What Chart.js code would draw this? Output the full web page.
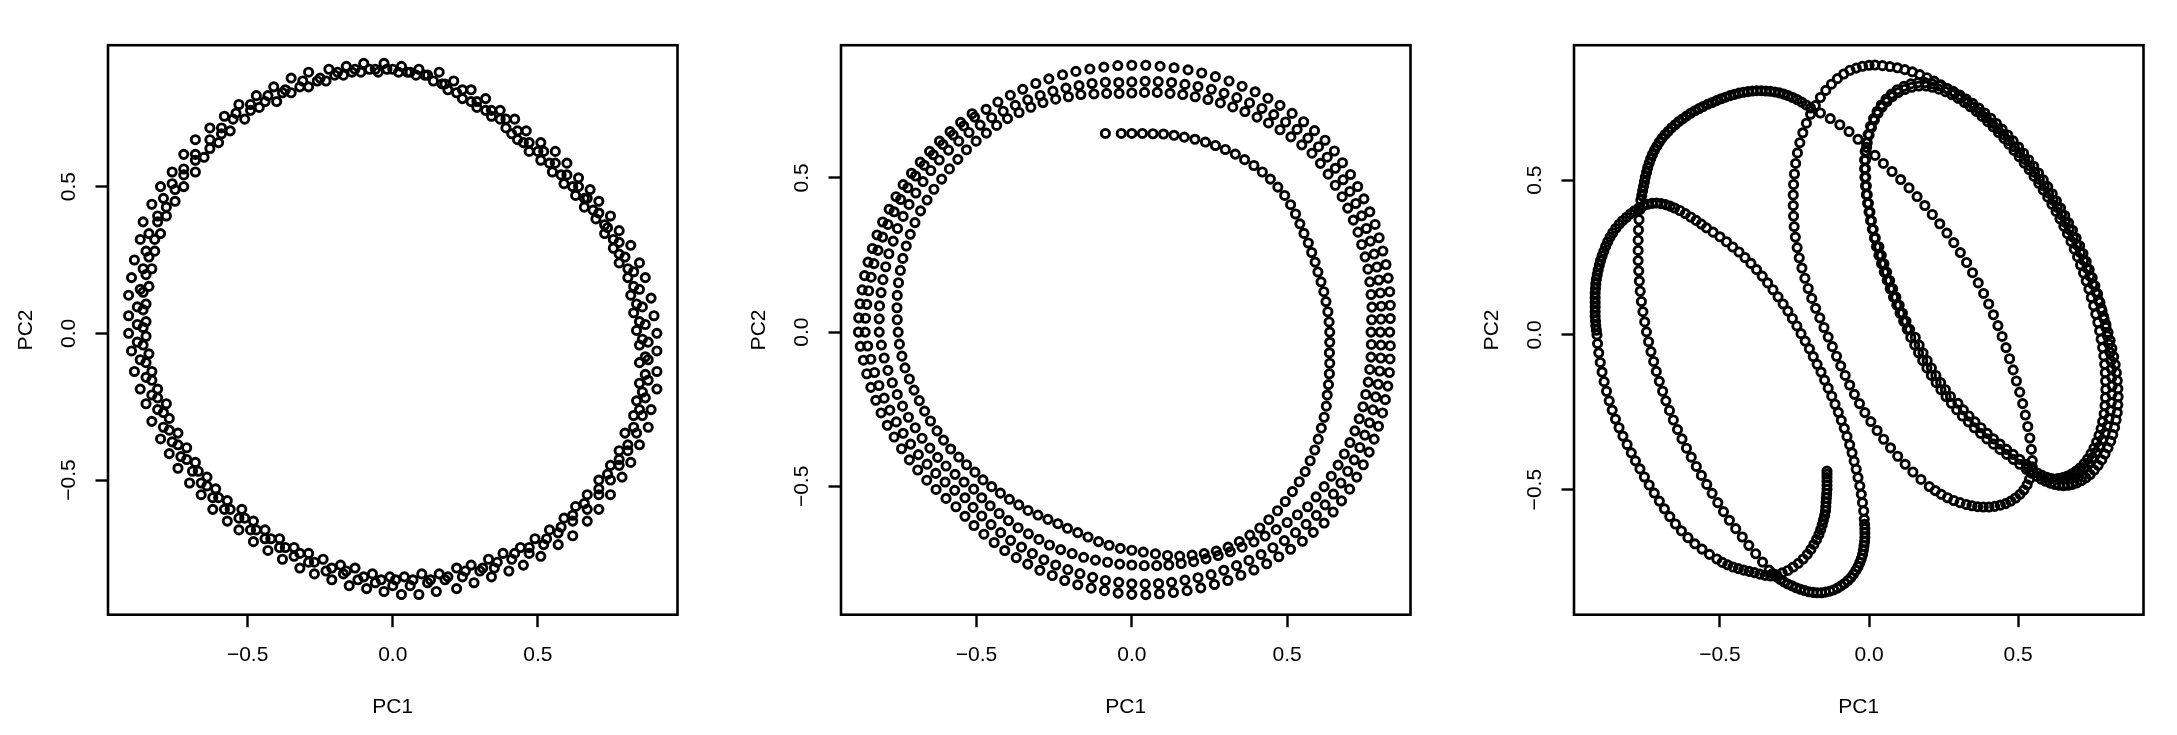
<!DOCTYPE html>
<html><head><meta charset="utf-8">
<script src="https://cdn.jsdelivr.net/npm/chart.js@4/dist/chart.umd.min.js"></script>
<style>
html,body{margin:0;padding:0;background:#fff;width:2177px;height:735px;overflow:hidden}
.p{position:absolute;top:0;width:710px;height:735px}
</style></head><body>
<div class="p" style="left:0px"><canvas id="c1" width="710" height="735"></canvas></div>
<div class="p" style="left:733px"><canvas id="c2" width="710" height="735"></canvas></div>
<div class="p" style="left:1466px"><canvas id="c3" width="710" height="735"></canvas></div>
<script>
const tickValues = [-0.5, 0, 0.5];
const tickLabels = ['\u22120.5', '0.0', '0.5'];
const xTitle = 'PC1';
const yTitle = 'PC2';

// ---- Panel 1: four nearly overlapping tracks of the closed loop ----
const p1Outer = [[.91,0],[.90,.06],[.89,.12],[.87,.19],[.85,.24],[.82,.30],[.78,.35],[.75,.40],[.71,.45],[.68,.49],[.64,.53],[.60,.58],[.56,.62],[.51,.65],[.46,.69],[.42,.73],[.37,.76],[.32,.80],[.27,.83],[.21,.86],[.16,.89],[.09,.90],[.03,.91],[-.03,.92],[-.10,.92],[-.16,.91],[-.22,.90],[-.29,.89],[-.35,.87],[-.41,.84],[-.47,.81],[-.53,.78],[-.58,.74],[-.63,.70],[-.68,.66],[-.72,.61],[-.76,.55],[-.80,.50],[-.83,.44],[-.86,.38],[-.87,.32],[-.89,.25],[-.90,.19],[-.91,.13],[-.91,.06],[-.91,0],[-.90,-.06],[-.89,-.13],[-.87,-.19],[-.85,-.24],[-.83,-.30],[-.80,-.36],[-.77,-.41],[-.74,-.46],[-.70,-.51],[-.66,-.55],[-.62,-.60],[-.57,-.64],[-.53,-.67],[-.48,-.71],[-.43,-.74],[-.38,-.77],[-.32,-.80],[-.27,-.82],[-.21,-.84],[-.15,-.86],[-.09,-.87],[-.03,-.88],[.03,-.89],[.09,-.89],[.15,-.88],[.22,-.87],[.28,-.85],[.34,-.83],[.40,-.81],[.45,-.79],[.51,-.76],[.57,-.72],[.62,-.69],[.67,-.64],[.71,-.60],[.75,-.55],[.79,-.49],[.82,-.44],[.85,-.38],[.88,-.32],[.89,-.26],[.91,-.19],[.91,-.13],[.91,-.06]];
const p1Middle = [[.87,.03],[.86,.09],[.85,.15],[.83,.21],[.80,.26],[.78,.31],[.74,.36],[.71,.41],[.67,.46],[.64,.50],[.60,.54],[.56,.58],[.52,.62],[.47,.65],[.43,.69],[.39,.73],[.34,.76],[.29,.79],[.24,.83],[.18,.85],[.12,.88],[.06,.89],[0,.90],[-.06,.90],[-.13,.90],[-.19,.89],[-.25,.87],[-.31,.86],[-.37,.83],[-.43,.81],[-.49,.78],[-.54,.75],[-.59,.70],[-.63,.66],[-.68,.61],[-.72,.56],[-.76,.51],[-.79,.46],[-.81,.40],[-.84,.34],[-.85,.28],[-.86,.22],[-.87,.15],[-.88,.09],[-.88,.03],[-.88,-.03],[-.87,-.09],[-.85,-.15],[-.83,-.21],[-.81,-.26],[-.79,-.32],[-.76,-.37],[-.73,-.42],[-.69,-.47],[-.66,-.51],[-.62,-.56],[-.58,-.60],[-.53,-.63],[-.49,-.67],[-.44,-.70],[-.39,-.73],[-.34,-.76],[-.29,-.78],[-.23,-.81],[-.17,-.82],[-.12,-.84],[-.06,-.85],[0,-.86],[.06,-.86],[.12,-.85],[.18,-.84],[.24,-.83],[.30,-.81],[.35,-.80],[.41,-.77],[.47,-.75],[.52,-.72],[.57,-.68],[.62,-.64],[.67,-.60],[.71,-.55],[.75,-.50],[.78,-.45],[.81,-.40],[.84,-.34],[.86,-.28],[.87,-.22],[.88,-.16],[.88,-.09],[.88,-.03]];
const p1Third = [[.85,.04],[.84,.10],[.83,.16],[.81,.22],[.78,.27],[.76,.32],[.73,.37],[.69,.42],[.66,.46],[.62,.50],[.58,.54],[.54,.58],[.50,.62],[.45,.65],[.41,.68],[.37,.73],[.32,.76],[.27,.79],[.22,.82],[.17,.85],[.11,.88],[.05,.89],[-.02,.90],[-.08,.90],[-.14,.89],[-.20,.88],[-.26,.86],[-.32,.84],[-.38,.82],[-.44,.79],[-.49,.76],[-.55,.73],[-.59,.68],[-.63,.63],[-.68,.59],[-.72,.54],[-.75,.49],[-.78,.43],[-.81,.38],[-.82,.32],[-.84,.26],[-.85,.20],[-.86,.14],[-.86,.08],[-.86,.02],[-.86,-.04],[-.85,-.10],[-.83,-.16],[-.81,-.22],[-.79,-.27],[-.77,-.33],[-.74,-.38],[-.71,-.43],[-.67,-.47],[-.64,-.52],[-.60,-.56],[-.56,-.60],[-.51,-.63],[-.47,-.67],[-.42,-.70],[-.37,-.73],[-.32,-.75],[-.27,-.78],[-.21,-.80],[-.16,-.81],[-.10,-.83],[-.04,-.84],[.01,-.84],[.07,-.84],[.13,-.84],[.19,-.83],[.25,-.81],[.31,-.80],[.36,-.78],[.42,-.75],[.47,-.73],[.53,-.70],[.58,-.66],[.62,-.62],[.66,-.58],[.71,-.53],[.74,-.48],[.78,-.43],[.81,-.38],[.83,-.32],[.85,-.26],[.86,-.20],[.87,-.14],[.87,-.08],[.86,-.02]];
const p1Inner = [[.84,.01],[.83,.07],[.82,.13],[.81,.19],[.78,.24],[.76,.29],[.73,.34],[.70,.39],[.66,.43],[.63,.47],[.59,.51],[.55,.55],[.51,.59],[.47,.62],[.43,.66],[.39,.70],[.34,.74],[.29,.77],[.24,.80],[.19,.83],[.14,.86],[.08,.88],[.02,.89],[-.05,.89],[-.11,.89],[-.17,.88],[-.23,.86],[-.29,.84],[-.35,.82],[-.40,.79],[-.46,.77],[-.51,.73],[-.56,.69],[-.60,.65],[-.65,.60],[-.68,.55],[-.72,.50],[-.75,.45],[-.78,.40],[-.80,.34],[-.82,.28],[-.83,.22],[-.84,.16],[-.85,.10],[-.85,.04],[-.85,-.01],[-.84,-.07],[-.83,-.13],[-.81,-.19],[-.78,-.24],[-.77,-.29],[-.74,-.34],[-.71,-.39],[-.68,-.44],[-.64,-.49],[-.61,-.53],[-.57,-.57],[-.52,-.60],[-.48,-.64],[-.44,-.67],[-.39,-.70],[-.34,-.73],[-.29,-.75],[-.24,-.77],[-.18,-.79],[-.13,-.80],[-.07,-.82],[-.01,-.83],[.04,-.83],[.10,-.82],[.16,-.82],[.22,-.80],[.27,-.79],[.33,-.77],[.38,-.75],[.44,-.73],[.49,-.70],[.54,-.67],[.59,-.63],[.63,-.59],[.67,-.55],[.71,-.50],[.75,-.45],[.78,-.40],[.80,-.34],[.83,-.28],[.84,-.23],[.85,-.17],[.85,-.10],[.85,-.04]];

// ---- Panel 2: spiral starting at the inner tip, four turns ----
const p2LoopA = [[-.085,.644],[-.034,.644],[0,.644],[.034,.644],[.068,.643],[.102,.642],[.136,.638],[.169,.632],[.203,.625],[.237,.616],[.269,.605],[.301,.592],[.333,.577],[.363,.559],[.393,.540],[.420,.519],[.446,.496],[.470,.470],[.492,.443],[.511,.413],[.527,.383],[.541,.351],[.554,.32],[.568,.289],[.579,.258],[.590,.227],[.599,.195],[.609,.163],[.618,.131],[.625,.099],[.631,.066],[.635,.033],[.637,0],[.637,-.033],[.636,-.067],[.637,-.101],[.636,-.135],[.633,-.170],[.629,-.204],[.626,-.240],[.619,-.276],[.610,-.311],[.600,-.347],[.589,-.382],[.574,-.417],[.558,-.452],[.539,-.485],[.517,-.517],[.494,-.549],[.469,-.579],[.441,-.608],[.412,-.635],[.380,-.658],[.346,-.679],[.310,-.697],[.272,-.710],[.233,-.718],[.194,-.723],[.154,-.726],[.115,-.724],[.076,-.719],[.037,-.713],[0,-.707],[-.037,-.701],[-.073,-.691],[-.107,-.679],[-.141,-.664],[-.174,-.650],[-.207,-.636],[-.238,-.621],[-.270,-.607],[-.302,-.593],[-.334,-.578],[-.364,-.560],[-.394,-.542],[-.423,-.522],[-.451,-.501],[-.479,-.479],[-.505,-.454],[-.532,-.430],[-.557,-.405],[-.583,-.379],[-.606,-.35],[-.627,-.320],[-.648,-.288],[-.667,-.256],[-.684,-.222],[-.701,-.188],[-.716,-.152],[-.730,-.116],[-.740,-.078],[-.748,-.039],[-.752,0],[-.755,.040],[-.756,.079],[-.755,.119],[-.751,.160],[-.745,.200],[-.737,.239],[-.726,.279],[-.713,.317],[-.698,.355],[-.680,.393],[-.659,.428],[-.637,.463],[-.612,.496],[-.587,.529],[-.560,.560],[-.532,.591],[-.501,.619],[-.468,.645],[-.435,.670],[-.40,.692],[-.363,.712],[-.325,.729],[-.286,.744],[-.245,.755],[-.204,.763],[-.164,.770],[-.122,.772],[-.081,.774]];
const p2LoopB = [[-.041,.774],[0,.775],[.041,.777],[.082,.777],[.123,.774],[.164,.770],[.204,.763],[.245,.754],[.285,.743],[.325,.730],[.364,.715],[.403,.697],[.440,.678],[.477,.656],[.512,.633],[.547,.607],[.580,.580],[.607,.547],[.632,.512],[.655,.476],[.677,.439],[.695,.402],[.713,.363],[.728,.324],[.740,.284],[.751,.244],[.760,.204],[.766,.163],[.770,.122],[.773,.081],[.772,.040],[.77,0],[.771,-.040],[.770,-.081],[.766,-.121],[.761,-.162],[.753,-.202],[.744,-.242],[.732,-.281],[.718,-.320],[.702,-.358],[.684,-.395],[.664,-.431],[.642,-.467],[.619,-.501],[.593,-.534],[.566,-.566],[.533,-.592],[.500,-.617],[.465,-.640],[.429,-.661],[.393,-.680],[.355,-.697],[.317,-.712],[.278,-.724],[.239,-.735],[.199,-.744],[.159,-.750],[.119,-.755],[.080,-.757],[.040,-.757],[0,-.755],[-.039,-.752],[-.078,-.746],[-.117,-.739],[-.155,-.730],[-.192,-.718],[-.229,-.705],[-.265,-.690],[-.299,-.672],[-.333,-.654],[-.366,-.634],[-.397,-.611],[-.427,-.588],[-.456,-.563],[-.483,-.537],[-.509,-.509],[-.540,-.486],[-.569,-.461],[-.598,-.434],[-.625,-.406],[-.650,-.376],[-.675,-.344],[-.697,-.310],[-.719,-.276],[-.738,-.240],[-.755,-.202],[-.771,-.164],[-.785,-.124],[-.797,-.084],[-.806,-.042],[-.813,0],[-.813,.043],[-.812,.085],[-.807,.128],[-.801,.170],[-.792,.212],[-.782,.254],[-.768,.295],[-.754,.336],[-.736,.375],[-.717,.414],[-.695,.451],[-.672,.488],[-.647,.524],[-.620,.558],[-.590,.590],[-.557,.619],[-.524,.647],[-.488,.671],[-.451,.695],[-.414,.716],[-.375,.735],[-.335,.753],[-.295,.767],[-.254,.781],[-.212,.791],[-.170,.799],[-.128,.806],[-.085,.810]];
const p2LoopC = [[-.042,.809],[0,.811],[.043,.813],[.085,.812],[.128,.809],[.171,.803],[.213,.796],[.256,.787],[.297,.774],[.338,.760],[.379,.743],[.419,.725],[.457,.705],[.495,.681],[.532,.657],[.567,.629],[.601,.601],[.629,.567],[.655,.531],[.680,.494],[.702,.456],[.721,.417],[.740,.377],[.755,.336],[.768,.295],[.780,.253],[.789,.211],[.795,.169],[.800,.127],[.803,.084],[.802,.042],[.80,0],[.802,-.042],[.801,-.084],[.798,-.126],[.793,-.169],[.785,-.210],[.776,-.252],[.765,-.294],[.750,-.334],[.734,-.374],[.716,-.414],[.695,-.451],[.673,-.489],[.649,-.525],[.622,-.560],[.594,-.594],[.561,-.623],[.527,-.650],[.491,-.676],[.454,-.699],[.416,-.721],[.377,-.740],[.337,-.757],[.296,-.772],[.255,-.786],[.213,-.796],[.171,-.804],[.128,-.811],[.086,-.815],[.043,-.817],[0,-.816],[-.042,-.811],[-.085,-.805],[-.126,-.795],[-.167,-.783],[-.206,-.770],[-.245,-.755],[-.283,-.738],[-.320,-.718],[-.355,-.697],[-.390,-.675],[-.422,-.650],[-.453,-.624],[-.483,-.596],[-.511,-.568],[-.537,-.537],[-.570,-.513],[-.601,-.486],[-.631,-.458],[-.659,-.428],[-.687,-.397],[-.712,-.363],[-.736,-.328],[-.758,-.291],[-.779,-.253],[-.797,-.214],[-.814,-.173],[-.828,-.131],[-.840,-.088],[-.850,-.045],[-.858,0],[-.857,.045],[-.853,.090],[-.847,.134],[-.839,.178],[-.830,.222],[-.817,.265],[-.802,.308],[-.785,.349],[-.765,.390],[-.744,.430],[-.721,.468],[-.696,.506],[-.668,.541],[-.639,.575],[-.608,.608],[-.575,.639],[-.541,.668],[-.506,.697],[-.469,.722],[-.431,.746],[-.391,.768],[-.351,.787],[-.309,.806],[-.267,.821],[-.223,.834],[-.180,.845],[-.135,.853],[-.090,.859]];
const p2LoopD = [[-.045,.864],[0,.865],[.045,.865],[.091,.862],[.136,.857],[.181,.850],[.225,.840],[.269,.828],[.313,.814],[.355,.797],[.397,.779],[.438,.758],[.477,.735],[.516,.709],[.553,.682],[.588,.653],[.622,.622],[.652,.587],[.678,.549],[.704,.511],[.727,.472],[.747,.432],[.766,.390],[.783,.349],[.796,.306],[.808,.263],[.818,.219],[.825,.175],[.830,.131],[.832,.087],[.832,.044],[.83,0],[.832,-.044],[.831,-.087],[.829,-.131],[.824,-.175],[.816,-.219],[.807,-.262],[.794,-.305],[.780,-.347],[.764,-.389],[.745,-.430],[.724,-.470],[.701,-.509],[.675,-.547],[.648,-.583],[.619,-.619],[.584,-.649],[.549,-.678],[.511,-.704],[.473,-.728],[.434,-.751],[.393,-.771],[.351,-.788],[.309,-.805],[.266,-.818],[.222,-.829],[.178,-.838],[.134,-.844],[.089,-.848],[.045,-.851],[0,-.85],[-.044,-.846],[-.088,-.838],[-.131,-.830],[-.174,-.819],[-.216,-.805],[-.256,-.789],[-.296,-.772],[-.335,-.752],[-.372,-.731],[-.409,-.708],[-.443,-.682],[-.476,-.655],[-.508,-.627],[-.537,-.597],[-.566,-.566],[-.598,-.539],[-.630,-.510],[-.660,-.480],[-.689,-.447],[-.716,-.414],[-.741,-.378],[-.765,-.340],[-.787,-.302],[-.807,-.262],[-.824,-.221],[-.840,-.179],[-.853,-.135],[-.864,-.091],[-.874,-.046],[-.88,0],[-.879,.046],[-.875,.092],[-.868,.137],[-.860,.183],[-.849,.227],[-.835,.271],[-.820,.315],[-.802,.357],[-.781,.398],[-.759,.439],[-.736,.478],[-.709,.515],[-.681,.551],[-.651,.586],[-.619,.619],[-.585,.650],[-.551,.680],[-.514,.708]];

// ---- Panel 3: one drifting trajectory, traced segment by segment ----
const p3Hook = [[-.141,-.440],[-.141,-.450],[-.141,-.461],[-.141,-.473],[-.141,-.486],[-.141,-.499],[-.142,-.513],[-.143,-.527],[-.144,-.541],[-.145,-.555],[-.146,-.569],[-.149,-.584],[-.153,-.599],[-.157,-.614],[-.162,-.629],[-.168,-.645],[-.176,-.661],[-.185,-.677],[-.195,-.693],[-.207,-.709],[-.221,-.724],[-.237,-.738],[-.254,-.750],[-.272,-.761],[-.291,-.769],[-.310,-.775],[-.330,-.779]];
const p3LeftOuter = [[-.348,-.777],[-.366,-.773],[-.384,-.768],[-.402,-.764],[-.420,-.760],[-.438,-.755],[-.456,-.750],[-.474,-.743],[-.492,-.735],[-.510,-.724],[-.535,-.709],[-.560,-.692],[-.584,-.675],[-.607,-.655],[-.629,-.633],[-.649,-.611],[-.668,-.587],[-.686,-.562],[-.703,-.537],[-.720,-.511],[-.737,-.485],[-.753,-.459],[-.768,-.433],[-.783,-.407],[-.797,-.381],[-.811,-.354],[-.825,-.327],[-.838,-.300],[-.850,-.272],[-.861,-.243],[-.871,-.213],[-.880,-.182],[-.888,-.151],[-.895,-.120],[-.901,-.089],[-.906,-.058],[-.910,-.028],[-.912,.000],[-.914,.015],[-.916,.030],[-.917,.045],[-.918,.060],[-.918,.075],[-.918,.090],[-.918,.105],[-.918,.120],[-.918,.135],[-.917,.150],[-.916,.165],[-.914,.180],[-.911,.195],[-.908,.210],[-.904,.225],[-.900,.240],[-.895,.255],[-.889,.270],[-.883,.286],[-.876,.301],[-.868,.316],[-.859,.330],[-.849,.344],[-.838,.357],[-.826,.369],[-.813,.380],[-.800,.391],[-.786,.401],[-.772,.410],[-.757,.417],[-.742,.422],[-.727,.425],[-.712,.426],[-.697,.424],[-.682,.421],[-.667,.416],[-.652,.410],[-.634,.402],[-.616,.392],[-.598,.381],[-.580,.370],[-.562,.358],[-.545,.346]];
const p3LeftDiag = [[-.523,.332],[-.500,.317],[-.478,.301],[-.457,.284],[-.436,.268],[-.416,.250],[-.396,.231],[-.377,.211],[-.358,.190],[-.340,.168],[-.322,.146],[-.305,.123],[-.288,.100],[-.272,.077],[-.257,.053],[-.242,.029],[-.228,.004],[-.214,-.020],[-.200,-.045],[-.187,-.070],[-.174,-.095],[-.161,-.120],[-.149,-.146],[-.137,-.172],[-.125,-.198],[-.114,-.224],[-.103,-.250],[-.093,-.276],[-.083,-.302],[-.074,-.328],[-.065,-.355],[-.057,-.381],[-.050,-.408],[-.043,-.434],[-.037,-.461],[-.031,-.488],[-.026,-.515],[-.022,-.542],[-.018,-.569],[-.016,-.596],[-.015,-.612],[-.014,-.626],[-.014,-.640],[-.014,-.654],[-.015,-.668],[-.017,-.682],[-.019,-.696],[-.022,-.710],[-.026,-.723],[-.031,-.736],[-.037,-.749],[-.044,-.761],[-.052,-.773],[-.061,-.784],[-.071,-.794],[-.082,-.803],[-.094,-.811],[-.106,-.818],[-.119,-.824],[-.132,-.828],[-.146,-.831],[-.160,-.833],[-.174,-.833],[-.188,-.832],[-.202,-.830],[-.216,-.826],[-.230,-.822],[-.244,-.817],[-.258,-.811],[-.272,-.805],[-.285,-.798],[-.298,-.790],[-.311,-.781],[-.323,-.771],[-.335,-.760]];
const p3LeftInner = [[-.357,-.734],[-.380,-.707],[-.403,-.680],[-.425,-.653],[-.447,-.626],[-.468,-.599],[-.488,-.571],[-.507,-.542],[-.526,-.512],[-.544,-.483],[-.562,-.454],[-.579,-.425],[-.596,-.395],[-.612,-.366],[-.627,-.336],[-.642,-.306],[-.656,-.275],[-.669,-.244],[-.681,-.213],[-.692,-.182],[-.703,-.150],[-.713,-.118],[-.722,-.086],[-.731,-.054],[-.739,-.022],[-.746,.010],[-.752,.042],[-.758,.075],[-.763,.108],[-.767,.141],[-.770,.174],[-.772,.207],[-.774,.240],[-.774,.273],[-.774,.306],[-.773,.339],[-.771,.372],[-.768,.405],[-.765,.435],[-.762,.450],[-.759,.465],[-.756,.480],[-.753,.495],[-.750,.510],[-.746,.525],[-.742,.540],[-.737,.555],[-.732,.569],[-.726,.583],[-.719,.597],[-.711,.610],[-.703,.623],[-.694,.635],[-.684,.647],[-.673,.658],[-.662,.669],[-.650,.679],[-.638,.689],[-.625,.698],[-.612,.707],[-.598,.716],[-.584,.724],[-.570,.731],[-.556,.738],[-.541,.745],[-.526,.751],[-.511,.757],[-.496,.763],[-.481,.768],[-.466,.773],[-.451,.777],[-.436,.781],[-.421,.784],[-.406,.786],[-.391,.788],[-.376,.789],[-.361,.789],[-.346,.788],[-.331,.787],[-.316,.785],[-.301,.782],[-.286,.778],[-.271,.773],[-.256,.767],[-.241,.760],[-.226,.752],[-.211,.743],[-.196,.733]];
const p3MidDiag = [[-.163,.717],[-.130,.699],[-.098,.679],[-.067,.657],[-.037,.632],[-.008,.606],[.020,.580],[.048,.554],[.077,.528],[.106,.502],[.134,.475],[.161,.447],[.187,.418],[.212,.389],[.237,.359],[.261,.329],[.284,.298],[.306,.266],[.327,.234],[.347,.201],[.366,.168],[.384,.134],[.401,.100],[.417,.065],[.432,.030],[.446,-.005],[.459,-.041],[.471,-.077],[.483,-.113],[.494,-.149],[.505,-.185],[.515,-.222],[.524,-.259],[.532,-.296],[.539,-.333],[.544,-.370],[.547,-.406],[.547,-.426],[.544,-.446],[.538,-.466],[.530,-.484],[.519,-.501],[.506,-.515],[.491,-.527],[.475,-.537],[.458,-.545],[.440,-.550],[.421,-.554],[.402,-.556],[.383,-.556],[.364,-.555],[.345,-.552],[.326,-.548],[.305,-.542],[.284,-.535],[.263,-.526],[.242,-.515],[.222,-.503],[.202,-.490]];
const p3MidLeft = [[.174,-.467],[.147,-.443],[.121,-.418],[.096,-.392],[.072,-.365],[.049,-.337],[.027,-.309],[.006,-.280],[-.014,-.251],[-.032,-.222],[-.049,-.192],[-.065,-.162],[-.080,-.131],[-.095,-.100],[-.109,-.069],[-.123,-.038],[-.137,-.007],[-.151,.024],[-.165,.055],[-.179,.086],[-.192,.118],[-.204,.150],[-.215,.183],[-.225,.216],[-.234,.249],[-.241,.282],[-.247,.316],[-.251,.350],[-.253,.384],[-.254,.418],[-.254,.452],[-.253,.486],[-.250,.520],[-.246,.554],[-.240,.588],[-.232,.621],[-.222,.653],[-.210,.684],[-.196,.713],[-.180,.741],[-.163,.767],[-.145,.790],[-.126,.810],[-.106,.828],[-.085,.843],[-.064,.855],[-.043,.862],[-.022,.868],[0,.871],[.020,.872]];
const p3RightOuter = [[.045,.870],[.070,.867],[.095,.863],[.120,.857],[.145,.850],[.170,.841],[.194,.831],[.218,.820],[.241,.808],[.264,.795],[.287,.781],[.309,.767],[.331,.752],[.352,.736],[.373,.719],[.393,.702],[.413,.684],[.432,.666],[.451,.647],[.469,.628],[.487,.608],[.505,.588],[.522,.567],[.539,.546],[.555,.525],[.571,.503],[.587,.481],[.602,.458],[.617,.435],[.631,.412],[.645,.388],[.658,.364],[.671,.340],[.684,.316],[.696,.291],[.708,.266],[.719,.241],[.730,.216],[.740,.190],[.750,.164],[.760,.138],[.769,.112],[.778,.086],[.786,.060],[.794,.034],[.801,.008],[.808,-.018],[.814,-.044],[.820,-.070],[.825,-.096],[.829,-.122],[.832,-.148],[.834,-.174],[.835,-.200],[.834,-.226],[.832,-.251],[.828,-.275],[.823,-.299],[.817,-.322],[.810,-.344],[.801,-.365],[.791,-.385],[.780,-.404],[.768,-.421],[.755,-.437],[.741,-.451],[.727,-.462],[.712,-.471],[.697,-.478],[.682,-.483],[.667,-.486],[.652,-.487],[.637,-.486],[.622,-.483],[.607,-.479],[.592,-.473],[.577,-.466],[.562,-.457],[.547,-.447]];
const p3RightLoop1 = [[.527,-.434],[.505,-.418],[.483,-.402],[.461,-.386],[.439,-.370],[.417,-.353],[.395,-.336],[.374,-.318],[.353,-.300],[.333,-.281],[.313,-.262],[.294,-.242],[.276,-.221],[.258,-.199],[.241,-.177],[.225,-.154],[.209,-.131],[.194,-.107],[.180,-.083],[.166,-.058],[.153,-.033],[.140,-.008],[.128,.018],[.116,.044],[.104,.070],[.093,.096],[.082,.122],[.071,.149],[.061,.176],[.051,.203],[.042,.230],[.033,.257],[.025,.285],[.018,.313],[.011,.341],[.005,.369],[0,.397],[-.005,.425],[-.009,.453],[-.012,.481],[-.014,.509],[-.015,.537],[-.015,.565],[-.013,.593],[-.009,.621],[-.003,.648],[.005,.674],[.015,.699],[.027,.722],[.041,.743],[.057,.762],[.075,.778],[.095,.792],[.117,.803],[.140,.811],[.164,.815],[.188,.815],[.212,.811],[.236,.805],[.259,.797],[.282,.787],[.304,.775],[.326,.762],[.347,.748],[.368,.733],[.388,.717],[.408,.700],[.427,.683],[.446,.665],[.465,.646],[.483,.627],[.501,.607],[.518,.587],[.535,.566],[.552,.545],[.568,.523],[.584,.501],[.599,.479],[.614,.456],[.628,.433],[.642,.410],[.656,.386],[.669,.362],[.682,.338],[.694,.313],[.706,.288],[.717,.263],[.728,.237],[.738,.211],[.748,.185],[.757,.159],[.766,.132],[.774,.105],[.781,.078],[.788,.051],[.794,.024],[.799,-.003],[.804,-.030],[.808,-.057],[.811,-.084],[.813,-.111],[.814,-.138],[.815,-.165],[.814,-.192],[.812,-.219],[.809,-.245],[.804,-.270],[.798,-.294],[.791,-.317],[.782,-.339],[.772,-.360],[.761,-.379],[.749,-.397],[.736,-.413],[.722,-.427],[.707,-.439],[.692,-.449],[.676,-.457],[.660,-.462],[.644,-.465],[.628,-.466],[.612,-.464],[.596,-.460],[.580,-.454],[.564,-.446],[.548,-.437],[.532,-.427]];
const p3RightLoop2 = [[.527,-.418],[.505,-.402],[.483,-.386],[.461,-.370],[.439,-.353],[.417,-.336],[.396,-.318],[.375,-.300],[.355,-.281],[.335,-.262],[.316,-.242],[.298,-.221],[.273,-.199],[.256,-.177],[.240,-.154],[.224,-.131],[.209,-.107],[.195,-.083],[.181,-.058],[.168,-.033],[.155,-.008],[.136,.018],[.124,.044],[.112,.070],[.101,.096],[.090,.122],[.079,.149],[.069,.176],[.059,.203],[.050,.230],[.041,.257],[.033,.285],[.021,.313],[.014,.341],[.008,.369],[.003,.397],[-.002,.425],[-.006,.453],[-.009,.481],[-.011,.509],[-.012,.537],[-.012,.565],[-.010,.593],[-.006,.621],[0,.646],[.008,.670],[.018,.694],[.030,.716],[.044,.736],[.060,.754],[.078,.770],[.098,.783],[.120,.793],[.143,.800],[.167,.804],[.191,.804],[.212,.800],[.234,.794],[.256,.786],[.278,.776],[.299,.764],[.320,.751],[.340,.737],[.360,.722],[.379,.706],[.398,.689],[.416,.672],[.434,.654],[.452,.635],[.469,.616],[.486,.596],[.503,.576],[.520,.555],[.537,.534],[.553,.512],[.569,.490],[.584,.468],[.599,.445],[.613,.422],[.627,.399],[.640,.375],[.653,.351],[.665,.327],[.677,.302],[.688,.277],[.699,.252],[.709,.226],[.719,.200],[.728,.174],[.737,.148],[.745,.121],[.753,.094],[.760,.067],[.767,.040],[.773,.013],[.778,-.014],[.783,-.041],[.787,-.068],[.790,-.095],[.792,-.122],[.793,-.149],[.794,-.176],[.793,-.203],[.791,-.229],[.788,-.255],[.783,-.280],[.778,-.303],[.771,-.325],[.763,-.346],[.754,-.366],[.744,-.384],[.733,-.401],[.721,-.416],[.708,-.429],[.694,-.440],[.680,-.449],[.665,-.456],[.650,-.461],[.635,-.464]];

const panel1 = [p1Outer, p1Middle, p1Third, p1Inner];
const panel2 = [p2LoopA, p2LoopB, p2LoopC, p2LoopD];
const panel3 = [p3Hook, p3LeftOuter, p3LeftDiag, p3LeftInner, p3MidDiag, p3MidLeft, p3RightOuter, p3RightLoop1, p3RightLoop2];

const xRanges = [[-0.981, 0.981], [-0.936, 0.897], [-0.989, 0.920]];
const yRanges = [[-0.959, 0.982], [-0.916, 0.930], [-0.904, 0.936]];

const FONT = {family: "'Liberation Sans', Arial, Helvetica, sans-serif", size: 21};

const boxPlugin = {
  id: 'rbox',
  afterDraw(chart) {
    const {ctx, chartArea: a} = chart;
    ctx.save();
    ctx.strokeStyle = '#000';
    ctx.lineWidth = 2.6;
    ctx.strokeRect(a.left, a.top, a.right - a.left, a.bottom - a.top);
    ctx.restore();
  }
};

function makeChart(id, segments, xr, yr) {
  const datasets = segments.map(seg => ({
    data: seg.map(p => ({x: p[0], y: p[1]})),
    showLine: false,
    pointStyle: 'circle',
    pointRadius: 4.1,
    pointHoverRadius: 4.1,
    pointBorderWidth: 2.9,
    pointBorderColor: '#000',
    pointBackgroundColor: 'rgba(0,0,0,0)',
    borderColor: '#000',
    backgroundColor: 'rgba(0,0,0,0)'
  }));
  return new Chart(document.getElementById(id), {
    type: 'scatter',
    data: {datasets},
    options: {
      responsive: false,
      animation: false,
      events: [],
      layout: {padding: {left: 0, top: 45.2, right: 32.5, bottom: 0}},
      plugins: {legend: {display: false}, tooltip: {enabled: false}},
      scales: {
        x: {
          type: 'linear', position: 'bottom', min: xr[0], max: xr[1],
          afterBuildTicks: s => { s.ticks = tickValues.map(v => ({value: v})); },
          afterFit: s => { s.height = 120.3; },
          grid: {drawOnChartArea: false, drawTicks: true, tickLength: 12.5, tickWidth: 2.4, tickColor: '#000'},
          border: {display: false},
          ticks: {color: '#000', font: FONT, padding: 15.2, maxRotation: 0, minRotation: 0, autoSkip: false,
                  callback: (v, i) => tickLabels[i]},
          title: {display: true, text: xTitle, color: '#000', font: FONT, padding: {top: 0, bottom: 15.4}}
        },
        y: {
          type: 'linear', position: 'left', min: yr[0], max: yr[1],
          afterBuildTicks: s => { s.ticks = tickValues.map(v => ({value: v})); },
          afterFit: s => { s.width = 108; },
          grid: {drawOnChartArea: false, drawTicks: true, tickLength: 12.5, tickWidth: 2.4, tickColor: '#000'},
          border: {display: false},
          ticks: {color: '#000', font: FONT, padding: 5.5, minRotation: 90, maxRotation: 90, crossAlign: 'center', autoSkip: false,
                  callback: (v, i) => tickLabels[i]},
          title: {display: true, text: yTitle, color: '#000', font: FONT, padding: {top: 13.2, bottom: 0}}
        }
      }
    },
    plugins: [boxPlugin]
  });
}

makeChart('c1', panel1, xRanges[0], yRanges[0]);
makeChart('c2', panel2, xRanges[1], yRanges[1]);
makeChart('c3', panel3, xRanges[2], yRanges[2]);
</script>
</body></html>
